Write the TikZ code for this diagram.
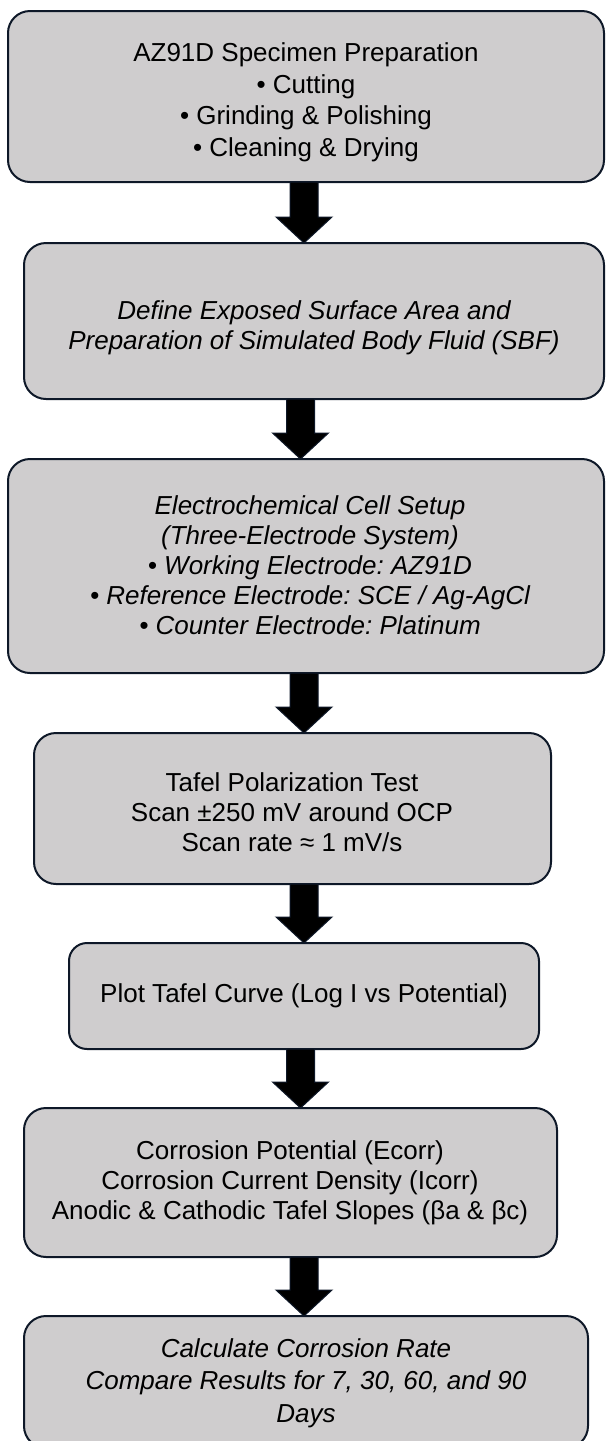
\documentclass[tikz,border=0pt]{standalone}
\usepackage{fontspec}
\setmainfont{Liberation Sans}
\usetikzlibrary{calc}
\frenchspacing
\definecolor{boxfill}{HTML}{CFCDCE}
\definecolor{edge}{HTML}{0E1828}
\newcommand\blkarrow[3]{%
  \filldraw[arrowbody]
    ($(#3 |- #1.south)+(-14,0)$) -- ($(#3 |- #2.north)+(-14,-26)$) --
    ($(#3 |- #2.north)+(-28,-26)$) -- (#3 |- #2.north) --
    ($(#3 |- #2.north)+(28,-26)$) -- ($(#3 |- #2.north)+(14,-26)$) --
    ($(#3 |- #1.south)+(14,0)$) -- cycle;}
\tikzset{
  box/.style={draw=edge, fill=boxfill, line width=2pt, rounded corners=22pt,
    inner sep=0pt, outer sep=0pt},
  txt/.style={align=center, font=\fontsize{26}{31}\selectfont, inner sep=0pt, text=black},
  arrowbody/.style={fill=black, draw=edge, line width=1pt, line join=miter}
}
\begin{document}
\begin{tikzpicture}[x=1pt,y=-1pt]
\useasboundingbox (0,0) rectangle (606,1441);
\clip (0,0) rectangle (606,1441);
\coordinate (axA) at (304,0);
\coordinate (axB) at (300.5,0);
% boxes
\node[box, minimum width=596pt, minimum height=171pt] (b1) at (306,96.5) {};
\node[box, minimum width=580pt, minimum height=156pt] (b2) at (314,321) {};
\node[box, minimum width=596pt, minimum height=214pt] (b3) at (306,566) {};
\node[box, minimum width=517pt, minimum height=151pt] (b4) at (292.5,808.5) {};
\node[box, minimum width=470pt, minimum height=106pt, rounded corners=18pt] (b5) at (304,996) {};
\node[box, minimum width=533pt, minimum height=149pt] (b6) at (290.5,1182.5) {};
\node[box, minimum width=564pt, minimum height=132pt] (b7) at (306,1382) {};
% texts
\node[txt, font=\fontsize{26}{31.5}\selectfont] (t1) at (306,102.5) {AZ91D Specimen Preparation\\ • Cutting\\ • Grinding \& Polishing\\ • Cleaning \& Drying};
\node[txt, font=\fontsize{26}{30}\selectfont\itshape] (t2) at (314,328) {Define Exposed Surface Area and\\ Preparation of Simulated Body Fluid (SBF)};
\node[txt, font=\fontsize{26}{30}\selectfont\itshape] (t3) at (310,565) {Electrochemical Cell Setup\\ (Three-Electrode System)\\ • Working Electrode: AZ91D\\ • Reference Electrode: SCE / Ag-AgCl\\ • Counter Electrode: Platinum};
\node[txt, font=\fontsize{26}{30}\selectfont] (t4) at (292,812) {Tafel Polarization Test\\ Scan ±250 mV around OCP\\ Scan rate ≈ 1 mV/s};
\node[txt] (t5) at (304,996) {Plot Tafel Curve (Log I vs Potential)};
\node[txt, font=\fontsize{26}{30}\selectfont] (t6) at (290,1183) {Corrosion Potential (Ecorr)\\ Corrosion Current Density (Icorr)\\ Anodic \& Cathodic Tafel Slopes (βa \& βc)};
\node[txt, font=\fontsize{26}{32.5}\selectfont\itshape] (t7) at (306,1383) {Calculate Corrosion Rate\\ Compare Results for 7, 30, 60, and 90\\ Days};
% arrows
\blkarrow{b1}{b2}{axA}
\blkarrow{b2}{b3}{axB}
\blkarrow{b3}{b4}{axA}
\blkarrow{b4}{b5}{axA}
\blkarrow{b5}{b6}{axB}
\blkarrow{b6}{b7}{axA}
\end{tikzpicture}
\end{document}
